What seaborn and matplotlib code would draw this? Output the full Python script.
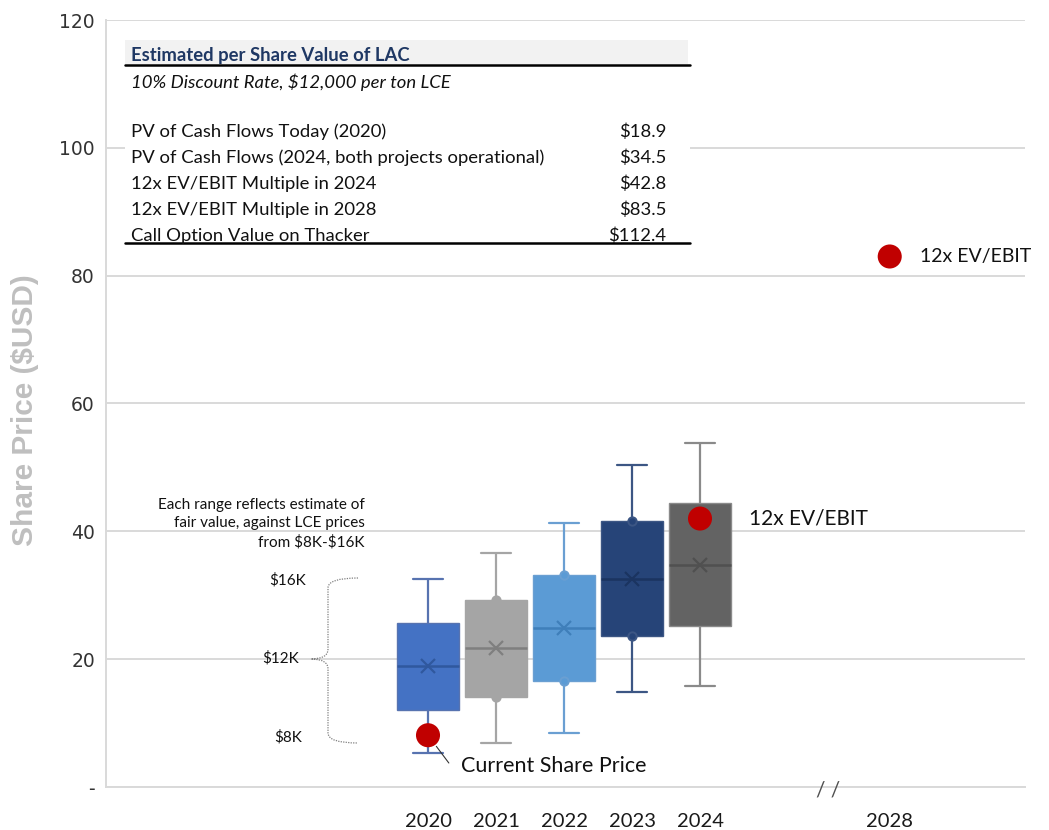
import numpy as np
import pandas as pd
import matplotlib
matplotlib.use("Agg")
import matplotlib.pyplot as plt
from matplotlib.patches import Rectangle, PathPatch
from matplotlib.path import Path
from matplotlib.lines import Line2D
import seaborn as sns

# ---------------- data ----------------
years = ["2020", "2021", "2022", "2023", "2024"]
whisker_low = [5.3, 6.9, 8.5, 14.9, 15.8]
q1 = [12.0, 14.1, 16.6, 23.6, 25.2]
median = [18.9, 21.8, 24.9, 32.6, 34.7]
q3 = [25.7, 29.3, 33.2, 41.6, 44.4]
whisker_high = [32.5, 36.6, 41.3, 50.4, 53.8]

fill_colors = ["#4472C4", "#A5A5A5", "#5B9BD5", "#264478", "#636363"]
line_colors = ["#5773B0", "#A5A5A5", "#6A9FD2", "#3C5684", "#8A8A8A"]
median_colors = ["#30589E", "#7F7F7F", "#3F7FBA", "#1B3460", "#505050"]
inner_point_years = ["2021", "2022", "2023"]

current_price = 8.1
ev_ebit_2024 = 42.0
ev_ebit_2028 = 83.0
future_label = "2028"
future_pos = 6.79  # category slot of 2028 after the axis break

ytick_vals = [0, 20, 40, 60, 80, 100, 120]
ytick_labels = ["-", "20", "40", "60", "80", "100", "120"]

table_title = "Estimated per Share Value of LAC"
table_subtitle = "10% Discount Rate, $12,000 per ton LCE"
table_rows = ["PV of Cash Flows Today (2020)",
              "PV of Cash Flows (2024, both projects operational)",
              "12x EV/EBIT Multiple in 2024",
              "12x EV/EBIT Multiple in 2028",
              "Call Option Value on Thacker"]
table_values = ["$18.9", "$34.5", "$42.8", "$83.5", "$112.4"]

# long-form table for seaborn
rows = []
for i, y in enumerate(years):
    for v in (whisker_low[i], q1[i], median[i], q3[i], whisker_high[i]):
        rows.append({"year": y, "value": v})
df = pd.DataFrame(rows)

# ---------------- style ----------------
sns.set_theme(style="white")
plt.rcParams["font.family"] = ["Lato", "DejaVu Sans"]

W, H = 1049, 830
fig = plt.figure(figsize=(W / 100, H / 100), dpi=100)
AX_L, AX_R, AX_T, AX_B = 106, 1025, 20, 787
ax = fig.add_axes([AX_L / W, 1 - AX_B / H, (AX_R - AX_L) / W, (AX_B - AX_T) / H])

def fx(px):
    return (px - AX_L) / (AX_R - AX_L)

def fy(py):
    return (AX_B - py) / (AX_B - AX_T)

for i, y in enumerate(years):
    sub = df[df["year"] == y]
    sns.boxplot(data=sub, x="year", y="value", order=years, ax=ax,
                color=fill_colors[i], linecolor=line_colors[i], linewidth=1.6,
                width=0.9, whis=(0, 100), saturation=1,
                showmeans=True,
                meanprops=dict(marker="x", markeredgecolor=median_colors[i],
                               markerfacecolor=median_colors[i],
                               markersize=10, markeredgewidth=1.6),
                medianprops=dict(color=median_colors[i], linewidth=1.8),
                boxprops=dict(edgecolor=line_colors[i], linewidth=1.0),
                zorder=2)

# inner points at quartile edges
for y in inner_point_years:
    i = years.index(y)
    ax.plot([i, i], [q1[i], q3[i]], "o", color=line_colors[i],
            markerfacecolor=fill_colors[i], markeredgewidth=1.4,
            markersize=6, zorder=4)

# red dots
dot_x = [0, 4, future_pos]
dot_y = [current_price, ev_ebit_2024, ev_ebit_2028]
sns.scatterplot(x=dot_x, y=dot_y, ax=ax, color="#C00000", s=300,
                edgecolor="none", zorder=6, legend=False)

ax.annotate("12x EV/EBIT", (4, ev_ebit_2024), xytext=(35, 0),
            textcoords="offset points", va="center", ha="left",
            fontsize=15, color="#111111")
ax.annotate("12x EV/EBIT", (future_pos, ev_ebit_2028), xytext=(22, 0),
            textcoords="offset points", va="center", ha="left",
            fontsize=14, color="#111111")
# leader line + label for current price
ax.annotate("", xy=(0, current_price), xytext=(15, -20),
            textcoords="offset points", xycoords="data",
            arrowprops=dict(arrowstyle="-", color="#333333", lw=0.8,
                            shrinkA=0, shrinkB=10))
ax.annotate("Current Share Price", (0, current_price), xytext=(24, -22),
            textcoords="offset points", va="center", ha="left",
            fontsize=15.5, color="#111111")

# axes limits/ticks
ax.set_ylim(0, 120)
ax.set_xlim((AX_L - 428) / 68, (AX_R - 428) / 68)
ax.set_yticks(ytick_vals)
ax.set_yticklabels(ytick_labels, fontfamily="DejaVu Sans", fontsize=13.5,
                   color="#333333")
ax.set_xticks(list(range(len(years))) + [future_pos])
ax.set_xticklabels(years + [future_label], fontsize=14.5, color="#1A1A1A")
ax.tick_params(axis="x", length=0, pad=19)
ax.tick_params(axis="y", length=0, pad=8)
ax.set_xlabel("")
ax.set_ylabel("")
ax.yaxis.grid(True, color="#D9D9D9", linewidth=1.4)
ax.xaxis.grid(False)
ax.set_axisbelow(True)
for s in ["top", "right"]:
    ax.spines[s].set_visible(False)
for s in ["left", "bottom"]:
    ax.spines[s].set_color("#D9D9D9")
    ax.spines[s].set_linewidth(1.4)

# y label
fig.text(25 / W, 1 - 410 / H, "Share Price ($USD)", rotation=90,
         ha="center", va="center", fontsize=21.5, fontweight="bold",
         color="#BFBFBF", family=["Liberation Sans", "DejaVu Sans"],
         parse_math=False)

# axis break marker
ax.text(fx(828), fy(790), "/ /", transform=ax.transAxes, ha="center",
        va="center", fontsize=15, color="#505050", clip_on=False)

# ---------------- table ----------------
T = ax.transAxes
TFS = 13.3
ax.add_patch(Rectangle((fx(125), fy(246)), fx(690) - fx(125), fy(38) - fy(246),
                       transform=T, facecolor="white", edgecolor="none",
                       zorder=7, clip_on=False))
ax.add_patch(Rectangle((fx(125), fy(64)), fx(688) - fx(125), fy(40) - fy(64),
                       transform=T, facecolor="#F2F2F2", edgecolor="none",
                       zorder=7, clip_on=False))
for py in (65, 243):
    ax.add_line(Line2D([fx(125), fx(690)], [fy(py), fy(py)], transform=T,
                       color="black", lw=1.8, zorder=8, clip_on=False))
ax.text(fx(131), fy(55), table_title, transform=T, ha="left", va="center",
        fontsize=TFS, fontweight="bold", color="#1F3864", zorder=9,
        parse_math=False)
ax.text(fx(131), fy(82), table_subtitle, transform=T, ha="left", va="center",
        fontsize=TFS, style="italic", color="#111111", zorder=9,
        parse_math=False)
for k, (lab, val) in enumerate(zip(table_rows, table_values)):
    py = 132 + 26 * k
    ax.text(fx(131), fy(py), lab, transform=T, ha="left", va="center",
            fontsize=TFS, color="#111111", zorder=9, parse_math=False)
    ax.text(fx(666), fy(py), val, transform=T, ha="right", va="center",
            fontsize=TFS, color="#111111", zorder=9, parse_math=False)

# ---------------- left annotation ----------------
for k, line in enumerate(["Each range reflects estimate of",
                          "fair value, against LCE prices",
                          "from $8K-$16K"]):
    ax.text(fx(365), fy(505 + 18.5 * k), line, transform=T, ha="right",
            va="center", fontsize=11, color="#111111", parse_math=False)
for lab, px, py in (("$16K", 288, 580), ("$12K", 281, 658), ("$8K", 288, 737)):
    ax.text(fx(px), fy(py), lab, transform=T, ha="center", va="center",
            fontsize=11, color="#111111", parse_math=False)

# curly brace
xe, xv, xt = fx(358), fx(328), fx(311)
yt, ym, yb = fy(578), fy(659), fy(743)
r = fy(578) - fy(588)
verts = [(xe, yt), (xv, yt), (xv, yt - r),
         (xv, ym + r), (xv, ym), (xt, ym),
         (xv, ym), (xv, ym - r),
         (xv, yb + r), (xv, yb), (xe, yb)]
codes = [Path.MOVETO, Path.CURVE3, Path.CURVE3,
         Path.LINETO, Path.CURVE3, Path.CURVE3,
         Path.CURVE3, Path.CURVE3,
         Path.LINETO, Path.CURVE3, Path.CURVE3]
ax.add_patch(PathPatch(Path(verts, codes), transform=T, facecolor="none",
                       edgecolor="#7F7F7F", lw=0.9, linestyle=(0, (1, 1)),
                       clip_on=False))

fig.savefig("out.png", dpi=100)
